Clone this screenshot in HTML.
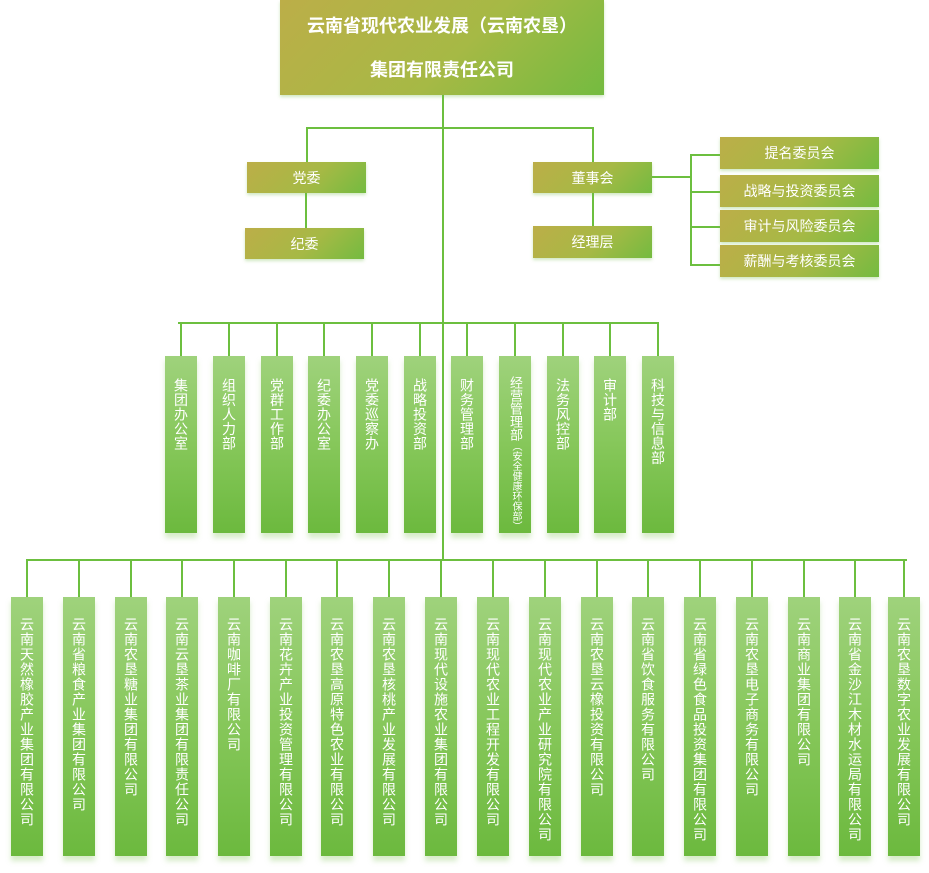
<!DOCTYPE html>
<html><head><meta charset="utf-8">
<style>
*{margin:0;padding:0;box-sizing:border-box}
body{width:929px;height:873px;background:#fff;position:relative;overflow:hidden;font-family:"Liberation Sans","Noto Sans CJK SC",sans-serif;color:#fff}
.l{position:absolute;background:#6cbf3f}
.g{position:absolute;background:linear-gradient(135deg,#bcae48 0%,#a6b945 55%,#74bb40 100%);display:flex;align-items:center;justify-content:center;font-size:14px;box-shadow:0 2px 3px rgba(120,190,80,.35)}
.v{position:absolute;background:linear-gradient(180deg,#9fd27c 0%,#86c75a 50%,#6cb93e 100%);box-shadow:0 5px 5px rgba(140,200,100,.35);width:32px}
.v span{position:absolute;left:0;right:0;writing-mode:vertical-rl;text-orientation:upright;font-size:14px;line-height:32px;letter-spacing:0.5px;display:block;margin:0 auto;width:32px;white-space:nowrap}
.v small{font-size:10px;letter-spacing:0}
.d{top:356px;height:177px}
.d span{top:22px}
.c{top:597px;height:259px}
.c span{top:20px;letter-spacing:1px}
</style></head><body>
<div class="g" style="left:280px;top:0;width:324px;height:95px;flex-direction:column;font-size:18px;font-weight:bold">
<div style="margin-top:-2px">云南省现代农业发展（云南农垦）</div>
<div style="margin-top:18px">集团有限责任公司</div></div>
<div class="l" style="left:442px;top:95px;width:2px;height:465px"></div>
<div class="l" style="left:306px;top:127px;width:288px;height:2px"></div>
<div class="l" style="left:306px;top:127px;width:2px;height:35px"></div>
<div class="l" style="left:592px;top:127px;width:2px;height:35px"></div>
<div class="g" style="left:247px;top:162px;width:119px;height:31px">党委</div>
<div class="l" style="left:305px;top:193px;width:2px;height:35px"></div>
<div class="g" style="left:245px;top:228px;width:119px;height:31px">纪委</div>
<div class="g" style="left:533px;top:162px;width:119px;height:31px">董事会</div>
<div class="l" style="left:592px;top:193px;width:2px;height:33px"></div>
<div class="g" style="left:533px;top:226px;width:119px;height:32px">经理层</div>
<div class="l" style="left:652px;top:176px;width:39px;height:2px"></div>
<div class="l" style="left:690px;top:154px;width:2px;height:112px"></div>
<div class="l" style="left:690px;top:154px;width:30px;height:2px"></div>
<div class="l" style="left:690px;top:191px;width:30px;height:2px"></div>
<div class="l" style="left:690px;top:226px;width:30px;height:2px"></div>
<div class="l" style="left:690px;top:264px;width:30px;height:2px"></div>
<div class="g" style="left:720px;top:137px;width:159px;height:32px">提名委员会</div>
<div class="g" style="left:720px;top:175px;width:159px;height:32px">战略与投资委员会</div>
<div class="g" style="left:720px;top:210px;width:159px;height:32px">审计与风险委员会</div>
<div class="g" style="left:720px;top:245px;width:159px;height:32px">薪酬与考核委员会</div>
<div class="l" style="left:178px;top:322px;width:480px;height:2px"></div>
<div id="depts"></div>
<div class="l" style="left:26px;top:559px;width:881px;height:2px"></div>
<div id="cos"></div>
<script>
var d=["集团办公室","组织人力部","党群工作部","纪委办公室","党委巡察办","战略投资部","财务管理部","经营管理部","法务风控部","审计部","科技与信息部"];
var dx=[165,213,261,308,356,404,451,499,547,594,642];
var h="";
for(var i=0;i<d.length;i++){
 var x=dx[i];
 h+='<div class="l" style="left:'+(x+15)+'px;top:322px;width:2px;height:34px"></div>';
 var t;
 if(i==7)t='<span style="top:20px;font-size:13px;letter-spacing:0">经营管理部<small>（安全健康环保部）</small></span>';
 else t='<span>'+d[i]+'</span>';
 h+='<div class="v d" style="left:'+x+'px">'+t+'</div>';
}
document.getElementById('depts').outerHTML=h;
var c=["云南天然橡胶产业集团有限公司","云南省粮食产业集团有限公司","云南农垦糖业集团有限公司","云南云垦茶业集团有限责任公司","云南咖啡厂有限公司","云南花卉产业投资管理有限公司","云南农垦高原特色农业有限公司","云南农垦核桃产业发展有限公司","云南现代设施农业集团有限公司","云南现代农业工程开发有限公司","云南现代农业产业研究院有限公司","云南农垦云橡投资有限公司","云南省饮食服务有限公司","云南省绿色食品投资集团有限公司","云南农垦电子商务有限公司","云南商业集团有限公司","云南省金沙江木材水运局有限公司","云南农垦数字农业发展有限公司"];
var cx=[11,63,115,166,218,270,321,373,425,477,529,581,632,684,736,788,839,888];
h="";
for(var i=0;i<c.length;i++){
 var x=cx[i];
 h+='<div class="l" style="left:'+(x+15)+'px;top:559px;width:2px;height:38px"></div>';
 h+='<div class="v c" style="left:'+x+'px"><span>'+c[i]+'</span></div>';
}
document.getElementById('cos').outerHTML=h;
</script>
</body></html>
